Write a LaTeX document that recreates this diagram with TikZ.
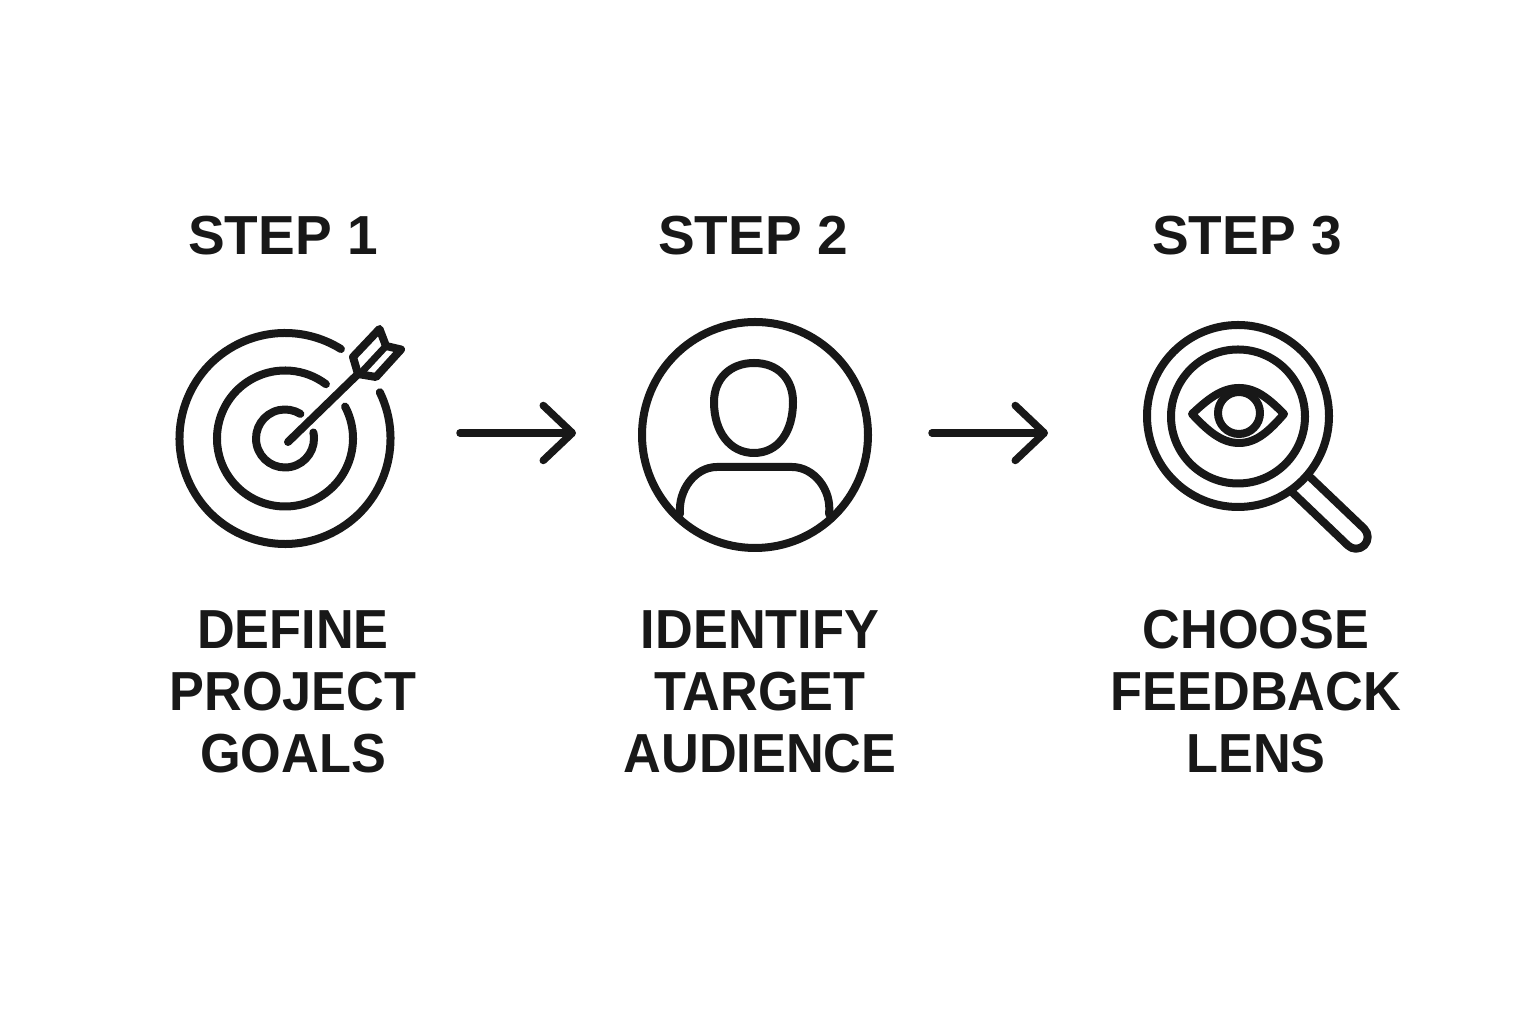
\documentclass[tikz,border=0pt]{standalone}
\usepackage{xcolor}
\usepackage{fontspec}
\setmainfont{Liberation Sans}
\newfontfamily\captionfont[FakeStretch=0.95]{Liberation Sans}
\usetikzlibrary{arrows.meta, positioning, calc}
\definecolor{inkblack}{RGB}{24, 24, 24}
\tikzset{
    iconline/.style={draw=inkblack, line width=8pt, line cap=round, line join=round},
    iconslot/.style={circle, minimum size=220pt, inner sep=0pt, outer sep=0pt},
    steptitle/.style={text=inkblack, font=\fontsize{55}{55}\selectfont\bfseries, inner sep=0pt},
    stepcaption/.style={text=inkblack, font=\fontsize{55}{62}\selectfont\captionfont\bfseries, align=center, inner sep=0pt},
    flowarrow/.style={draw=inkblack, line width=7.5pt, line cap=round,
        -{Straight Barb[length=29pt, width=55pt, line cap=round, round]}}
}

\begin{document}
\begin{tikzpicture}[x=1pt, y=1pt]
    \useasboundingbox (0,0) rectangle (1536,1024);
    \fill[white] (0,0) rectangle (1536,1024);

    % Titles
    \node[steptitle] (title1) at (283,788) {STEP 1};
    \node[steptitle] (title2) at (753,788) {STEP 2};
    \node[steptitle] (title3) at (1247,788) {STEP 3};

    % Slots of the icons
    \node[iconslot] (target) at (285,591) {};
    \node[iconslot] (person) at (755,591) {};
    \node[iconslot] (lens) at (1238,591) {};

    % Target
    \draw[iconline] (285,585.5) ++(26:105.5) arc (26:-302:105.5);
    \draw[iconline] (285,585.5) ++(28:68) arc (28:-307:68);
    \draw[iconline] (285,585.5) ++(12:29) arc (12:-302:29);
    \draw[iconline] (288,582) -- (357,649);
    \draw[iconline] (379.5,695) -- (386,678) -- (401,674.5) -- (376,647) -- (358,650) -- (353,667) -- cycle;
    \draw[iconline, line width=7pt] (360,650) -- (386,678);

    % Person
    \draw[iconline] (755,589) circle (113);
    \draw[iconline] (754,661) .. controls (730,661) and (714,645) .. (714,622)
        .. controls (714,592) and (730,571) .. (754,571)
        .. controls (778,571) and (793,592) .. (793,622)
        .. controls (793,645) and (778,661) .. (754,661) -- cycle;
    \draw[iconline] (680,510) .. controls (678,534) and (695,557) .. (717,557)
        -- (792,557) .. controls (814,557) and (832,534) .. (829,510);

    % Magnifier
    \draw[iconline] (1238,608) circle (91);
    \draw[iconline] (1238,607.5) circle (67);
    \draw[iconline] (1192,610) .. controls (1207,624) and (1221,636) .. (1239,636)
        .. controls (1257,636) and (1270,624) .. (1284,610)
        .. controls (1270,594) and (1257,581) .. (1239,581)
        .. controls (1221,581) and (1207,594) .. (1192,610) -- cycle;
    \draw[iconline] (1239,611) circle (21);
    \draw[iconline] (1293,531) -- (1347.7,478.7) arc (225:405:11.7) -- (1310,547);

    % Captions
    \node[stepcaption] (caption1) at (293,332) {DEFINE\\PROJECT\\GOALS};
    \node[stepcaption] (caption2) at (760,332) {IDENTIFY\\TARGET\\AUDIENCE};
    \node[stepcaption] (caption3) at (1256,332) {CHOOSE\\FEEDBACK\\LENS};

    % Arrows
    \draw[flowarrow, shorten <=65pt, shorten >=69pt] (target) -- (person);
    \draw[flowarrow, shorten <=67pt, shorten >=80pt] (person) -- (lens);
\end{tikzpicture}
\end{document}
